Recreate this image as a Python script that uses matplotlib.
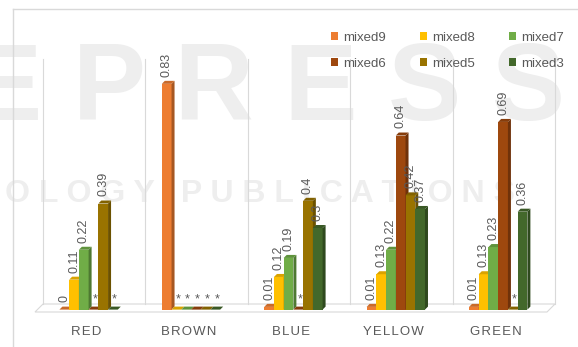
import numpy as np
import matplotlib
matplotlib.use('Agg')
from matplotlib import pyplot as plt
from matplotlib.patches import Polygon, Patch
from matplotlib.lines import Line2D

# chart data (None = no result, shown as "*")
categories = ["RED", "BROWN", "BLUE", "YELLOW", "GREEN"]
series_names = ["mixed9", "mixed8", "mixed7", "mixed6", "mixed5", "mixed3"]
mixed9 = [0, 0.83, 0.01, 0.01, 0.01]
mixed8 = [0.11, None, 0.12, 0.13, 0.13]
mixed7 = [0.22, None, 0.19, 0.22, 0.23]
mixed6 = [None, None, None, 0.64, 0.69]
mixed5 = [0.39, None, 0.4, 0.42, None]
mixed3 = [None, None, 0.3, 0.37, 0.36]
series_values = [mixed9, mixed8, mixed7, mixed6, mixed5, mixed3]
colors = ["#ED7D31", "#FFC000", "#70AD47", "#9E480E", "#997300", "#43682B"]
y_max = 0.9

W, H = 578, 347
TXT = "#595959"
GRID = "#d9d9d9"
WM = "#eeeeee"

fig = plt.figure(figsize=(W / 100, H / 100), dpi=100)
ax = fig.add_axes([0, 0, 1, 1])
ax.axis('off')

# pixel scale of the plot (category step and value unit)
step_px, unit_px = 102.4, 272.0
x0_px, y0_px = 86.2, 35.0
ax.set_xlim(-x0_px / step_px, (W - x0_px) / step_px)
ax.set_ylim(-y0_px / unit_px, (H - y0_px) / unit_px)


def darker(c, f):
    r, g, b = matplotlib.colors.to_rgb(c)
    return (r * f, g * f, b * f)


# watermark in the background
ax.text(565 / W, 1 - 92 / H, "S C I T E P R E S S", ha='right', va='center',
        fontsize=79, fontweight='bold', color=WM, family='Liberation Sans',
        transform=fig.transFigure, zorder=0.5)
ax.text(515 / W, 1 - 194 / H, "S C I E N C E   A N D   T E C H N O L O G Y   P U B L I C A T I O N S",
        ha='right', va='center', fontsize=23, fontweight='bold', color=WM,
        family='Liberation Sans', transform=fig.transFigure, zorder=0.5)

# chart frame (cropped)
ax.add_artist(Line2D([13 / W, 1], [1 - 9 / H, 1 - 9 / H], color=GRID, lw=1, transform=fig.transFigure))
ax.add_artist(Line2D([13 / W, 13 / W], [0, 1 - 9 / H], color=GRID, lw=1, transform=fig.transFigure))

n = len(categories)
fdx, fdy = 8 / step_px, 8 / unit_px      # floor depth
bdx, bdy = 3 / step_px, 3 / unit_px      # bar depth
sdx, sdy = 2.4 / step_px, 2.4 / unit_px  # bar shift into the floor

# floor and back wall
floor = Polygon([(-0.5, 0), (n - 0.5, 0), (n - 0.5 + fdx, fdy), (-0.5 + fdx, fdy)],
                closed=True, facecolor='white', edgecolor=GRID, lw=0.8, zorder=1)
ax.add_patch(floor)
for k in range(n + 1):
    xb = k - 0.5 + fdx
    ax.plot([xb, xb], [fdy, fdy + y_max], color=GRID, lw=0.8, zorder=1)

# bars with 3d faces
w = 0.095
ns = len(series_names)
for j, (vals, c) in enumerate(zip(series_values, colors)):
    for i, v in enumerate(vals):
        h = 0 if v is None else v
        xl = i + (j - ns / 2) * w + sdx
        yb = sdy
        ax.add_patch(plt.Rectangle((xl, yb), w, h, facecolor=c, edgecolor='none', zorder=3))
        side = [(xl + w, yb), (xl + w + bdx, yb + bdy), (xl + w + bdx, yb + h + bdy), (xl + w, yb + h)]
        ax.add_patch(Polygon(side, closed=True, facecolor=darker(c, 0.7), edgecolor='none', zorder=3))
        top = [(xl, yb + h), (xl + w, yb + h), (xl + w + bdx, yb + h + bdy), (xl + bdx, yb + h + bdy)]
        ax.add_patch(Polygon(top, closed=True, facecolor=darker(c, 0.85), edgecolor='none', zorder=3))
        if v is None:
            ax.annotate("*", (xl + w / 2 + bdx / 2, yb + h + bdy), xytext=(0, 1), textcoords='offset points',
                        ha='center', va='bottom', fontsize=9, color=TXT,
                        family='Liberation Sans', zorder=4)
        else:
            ax.annotate(f"{v:g}", (xl + w / 2, yb + h + bdy), xytext=(0, 3), textcoords='offset points',
                        rotation=90, ha='center', va='bottom', fontsize=9, color=TXT,
                        family='Liberation Sans', zorder=4)

# category labels (spaced letters)
for i, cat in enumerate(categories):
    ax.text(i, -20 / unit_px, "\u200a".join(cat), ha='center', va='center', fontsize=9.5,
            color=TXT, family=['Liberation Sans', 'DejaVu Sans'])

# legend, filled row by row
handles = [Patch(facecolor=c, edgecolor='none', label=s) for s, c in zip(series_names, colors)]
order = [0, 3, 1, 4, 2, 5]
leg = fig.legend([handles[k] for k in order], [series_names[k] for k in order],
                 ncol=3, loc='upper left', bbox_to_anchor=(331 / W, 1 - 32 / H),
                 frameon=False, borderpad=0, borderaxespad=0,
                 handlelength=0.55, handleheight=0.55, handletextpad=0.35,
                 columnspacing=2.6, labelspacing=1.05,
                 prop={'family': 'Liberation Sans', 'size': 9.5})
for t in leg.get_texts():
    t.set_color(TXT)

fig.savefig("out.png", dpi=100)
